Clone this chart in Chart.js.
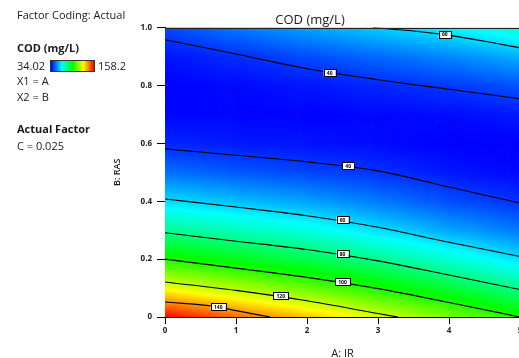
<!DOCTYPE html>
<html>
<head>
<meta charset="utf-8">
<script src="https://cdn.jsdelivr.net/npm/chart.js@4/dist/chart.umd.min.js"></script>
<style>
body { margin: 0; background: #fff; overflow: hidden; }
#wrap { position: relative; width: 530px; height: 358px; }
#chart { position: absolute; left: 0; top: 0; }
.side { position: absolute; left: 17px; font-family: "Open Sans"; font-size: 11px; line-height: 13px; color: #1a1a1a; white-space: nowrap; z-index: 2; }
.b { font-weight: bold; }
#bar { position: absolute; left: 50px; top: 60px; width: 45px; height: 12px; z-index: 2;
  background: linear-gradient(to right, #0000ff, #00ffff, #00ff00, #ffff00, #ff0000); box-sizing: border-box; border: 1px solid #333; }
</style>
</head>
<body>
<div id="wrap">
  <div class="side" style="top:8px">Factor Coding: Actual</div>
  <div class="side b" style="top:41px">COD (mg/L)</div>
  <div class="side" style="top:59px">34.02</div>
  <div id="bar"></div>
  <div class="side" style="top:59px;left:98px">158.2</div>
  <div class="side" style="top:74px">X1 = A</div>
  <div class="side" style="top:90px">X2 = B</div>
  <div class="side b" style="top:122px">Actual Factor</div>
  <div class="side" style="top:139px">C = 0.025</div>
  <canvas id="chart" width="530" height="358"></canvas>
</div>
<script>
// 軸の目盛り
const irTicks = [0, 1, 2, 3, 4, 5];
const rasGrid = [0, 0.1, 0.2, 0.3, 0.4, 0.5, 0.6, 0.7, 0.8, 0.9, 1];

// COD の読み取り値 (IR ごと、RAS = 0 .. 1)
const codIR0 = [158.2, 126.1, 100.0, 78.5, 61.4, 48.0, 39.0, 35.0, 34.5, 36.5, 43.0];
const codIR1 = [146.0, 117.9, 93.3, 73.6, 57.5, 45.1, 37.3, 34.8, 35.2, 39.4, 48.7];
const codIR2 = [135.0, 109.1, 86.9, 68.5, 54.0, 42.7, 36.5, 34.5, 36.7, 43.2, 53.9];
const codIR3 = [123.0, 99.6, 79.0, 61.5, 49.3, 40.3, 35.5, 35.0, 38.8, 46.8, 59.0];
const codIR4 = [112.0, 89.5, 70.3, 54.5, 43.7, 37.0, 34.3, 35.6, 41.0, 50.4, 63.9];
const codIR5 = [100.0, 79.0, 61.5, 48.9, 39.9, 34.9, 34.1, 37.0, 44.1, 55.2, 70.3];
const codCols = [codIR0, codIR1, codIR2, codIR3, codIR4, codIR5];
const codMin = 34.02;
const codMax = 158.2;

// 等高線 [IR, RAS]
const contour60top = [[2.93, 1.0], [3.5, 0.988], [4, 0.973], [4.5, 0.953], [5, 0.93]];
const contour40top = [[0, 0.958], [1, 0.909], [2, 0.858], [3, 0.82], [4, 0.787], [5, 0.754]];
const contour40low = [[0, 0.581], [1, 0.559], [2, 0.536], [3, 0.505], [4, 0.449], [5, 0.394]];
const contour60low = [[0, 0.408], [1, 0.38], [2, 0.35], [3, 0.31], [4, 0.258], [5, 0.209]];
const contour80 = [[0, 0.291], [1, 0.262], [2, 0.233], [3, 0.194], [4, 0.145], [5, 0.095]];
const contour100 = [[0, 0.2], [1, 0.169], [2, 0.137], [3, 0.098], [4, 0.05], [5, 0.0]];
const contour120 = [[0, 0.121], [1, 0.092], [2, 0.056], [3, 0.012], [3.28, 0]];
const contour140 = [[0, 0.052], [0.75, 0.035], [1, 0.022], [1.48, 0]];
const contours = [contour60top, contour40top, contour40low, contour60low, contour80, contour100, contour120, contour140];

// 等高線ラベル
const labelText = ['60', '40', '40', '60', '80', '100', '120', '140'];
const labelIR = [3.94, 2.32, 2.58, 2.5, 2.5, 2.5, 1.63, 0.75];
const labelRAS = [0.976, 0.844, 0.522, 0.336, 0.218, 0.121, 0.073, 0.035];

// カラーマップ
const colorStops = [[0, 0, 255], [0, 255, 255], [0, 255, 0], [255, 255, 0], [255, 0, 0]];
function codColor(v) {
    let t = (v - codMin) / (codMax - codMin);
    t = Math.max(0, Math.min(1, t));
    const s = t * (colorStops.length - 1);
    const i = Math.min(colorStops.length - 2, Math.floor(s));
    const f = s - i;
    const a = colorStops[i], b = colorStops[i + 1];
    return 'rgb(' + Math.round(a[0] + (b[0] - a[0]) * f) + ',' + Math.round(a[1] + (b[1] - a[1]) * f) + ',' + Math.round(a[2] + (b[2] - a[2]) * f) + ')';
}

// 格子から値を取る
function codAt(ir, ras) {
    let i = Math.min(irTicks.length - 2, Math.floor(ir));
    let fi = ir - irTicks[i];
    let j = Math.min(rasGrid.length - 2, Math.floor(ras * 10));
    let fj = (ras - rasGrid[j]) / 0.1;
    const v00 = codCols[i][j], v10 = codCols[i + 1][j];
    const v01 = codCols[i][j + 1], v11 = codCols[i + 1][j + 1];
    return v00 * (1 - fi) * (1 - fj) + v10 * fi * (1 - fj) + v01 * (1 - fi) * fj + v11 * fi * fj;
}

const heatmapPlugin = {
    id: 'heatmap',
    beforeDatasetsDraw(chart) {
        const ctx = chart.ctx;
        const area = chart.chartArea;
        const xs = chart.scales.x, ys = chart.scales.y;
        ctx.save();
        ctx.beginPath();
        ctx.rect(area.left, area.top, area.right - area.left, area.bottom - area.top);
        ctx.clip();
        const nx = 360, ny = 290;
        for (let i = 0; i < nx; i++) {
            const x0 = 5 * i / nx, x1 = 5 * (i + 1) / nx;
            const px0 = xs.getPixelForValue(x0), px1 = xs.getPixelForValue(x1);
            for (let j = 0; j < ny; j++) {
                const y0 = j / ny, y1 = (j + 1) / ny;
                const py0 = ys.getPixelForValue(y0), py1 = ys.getPixelForValue(y1);
                ctx.fillStyle = codColor(codAt((x0 + x1) / 2, (y0 + y1) / 2));
                ctx.fillRect(px0, py1, px1 - px0 + 0.7, py0 - py1 + 0.7);
            }
        }
        ctx.restore();
    },
    afterDatasetsDraw(chart) {
        const ctx = chart.ctx;
        const area = chart.chartArea;
        const xs = chart.scales.x, ys = chart.scales.y;
        ctx.save();
        // 上の枠線
        ctx.strokeStyle = '#222';
        ctx.lineWidth = 1;
        ctx.beginPath();
        ctx.moveTo(area.left, Math.round(area.top) + 0.5);
        ctx.lineTo(area.right, Math.round(area.top) + 0.5);
        ctx.stroke();
        ctx.font = 'bold 5px "Open Sans"';
        ctx.textAlign = 'center';
        ctx.textBaseline = 'middle';
        for (let k = 0; k < labelText.length; k++) {
            const px = xs.getPixelForValue(labelIR[k]);
            const py = ys.getPixelForValue(labelRAS[k]);
            const w = labelText[k].length > 2 ? 15 : 12;
            ctx.fillStyle = '#fff';
            ctx.fillRect(px - w / 2, py - 3.5, w, 7);
            ctx.strokeStyle = '#000';
            ctx.lineWidth = 1;
            ctx.strokeRect(Math.round(px - w / 2) + 0.5, Math.round(py - 3.5) + 0.5, w, 7);
            ctx.fillStyle = '#000';
            ctx.fillText(labelText[k], px, py + 0.5);
        }
        ctx.restore();
    }
};

const datasets = contours.map(function(c) {
    return {
        data: c.map(function(p) { return {x: p[0], y: p[1]}; }),
        showLine: true,
        borderColor: '#000',
        borderWidth: 1.1,
        pointRadius: 0,
        cubicInterpolationMode: 'monotone'
    };
});

const tickFont = {family: 'Open Sans', size: 8, weight: 'bold'};

new Chart(document.getElementById('chart').getContext('2d'), {
    type: 'scatter',
    data: {datasets: datasets},
    options: {
        responsive: false,
        animation: false,
        layout: {padding: {left: 100, right: 10, top: 0, bottom: 0}},
        plugins: {
            legend: {display: false},
            tooltip: {enabled: false},
            title: {
                display: true,
                text: 'COD (mg/L)',
                color: '#1a1a1a',
                font: {family: 'Open Sans', size: 13, weight: 'normal'},
                padding: {top: 12, bottom: 0}
            }
        },
        scales: {
            x: {
                type: 'linear', min: 0, max: 5,
                ticks: {stepSize: 1, font: tickFont, color: '#1a1a1a', padding: 2},
                grid: {drawOnChartArea: false, tickLength: 7, color: '#000'},
                border: {color: '#000'},
                title: {display: true, text: 'A: IR', color: '#1a1a1a', font: {family: 'Open Sans', size: 11, lineHeight: 1}, padding: {top: 0, bottom: -1.5}},
                afterFit: function(s) { s.height = 41; }
            },
            y: {
                type: 'linear', min: 0, max: 1,
                ticks: {stepSize: 0.2, font: tickFont, color: '#1a1a1a', padding: 5},
                grid: {drawOnChartArea: false, tickLength: 8, color: '#000'},
                border: {color: '#000'},
                title: {display: true, text: 'B: RAS', color: '#1a1a1a', font: {family: 'Open Sans', size: 9, weight: '600', lineHeight: 1}, padding: {top: 13, bottom: 0}},
                afterFit: function(s) { s.width = 65; }
            }
        }
    },
    plugins: [heatmapPlugin]
});
</script>
</body>
</html>
